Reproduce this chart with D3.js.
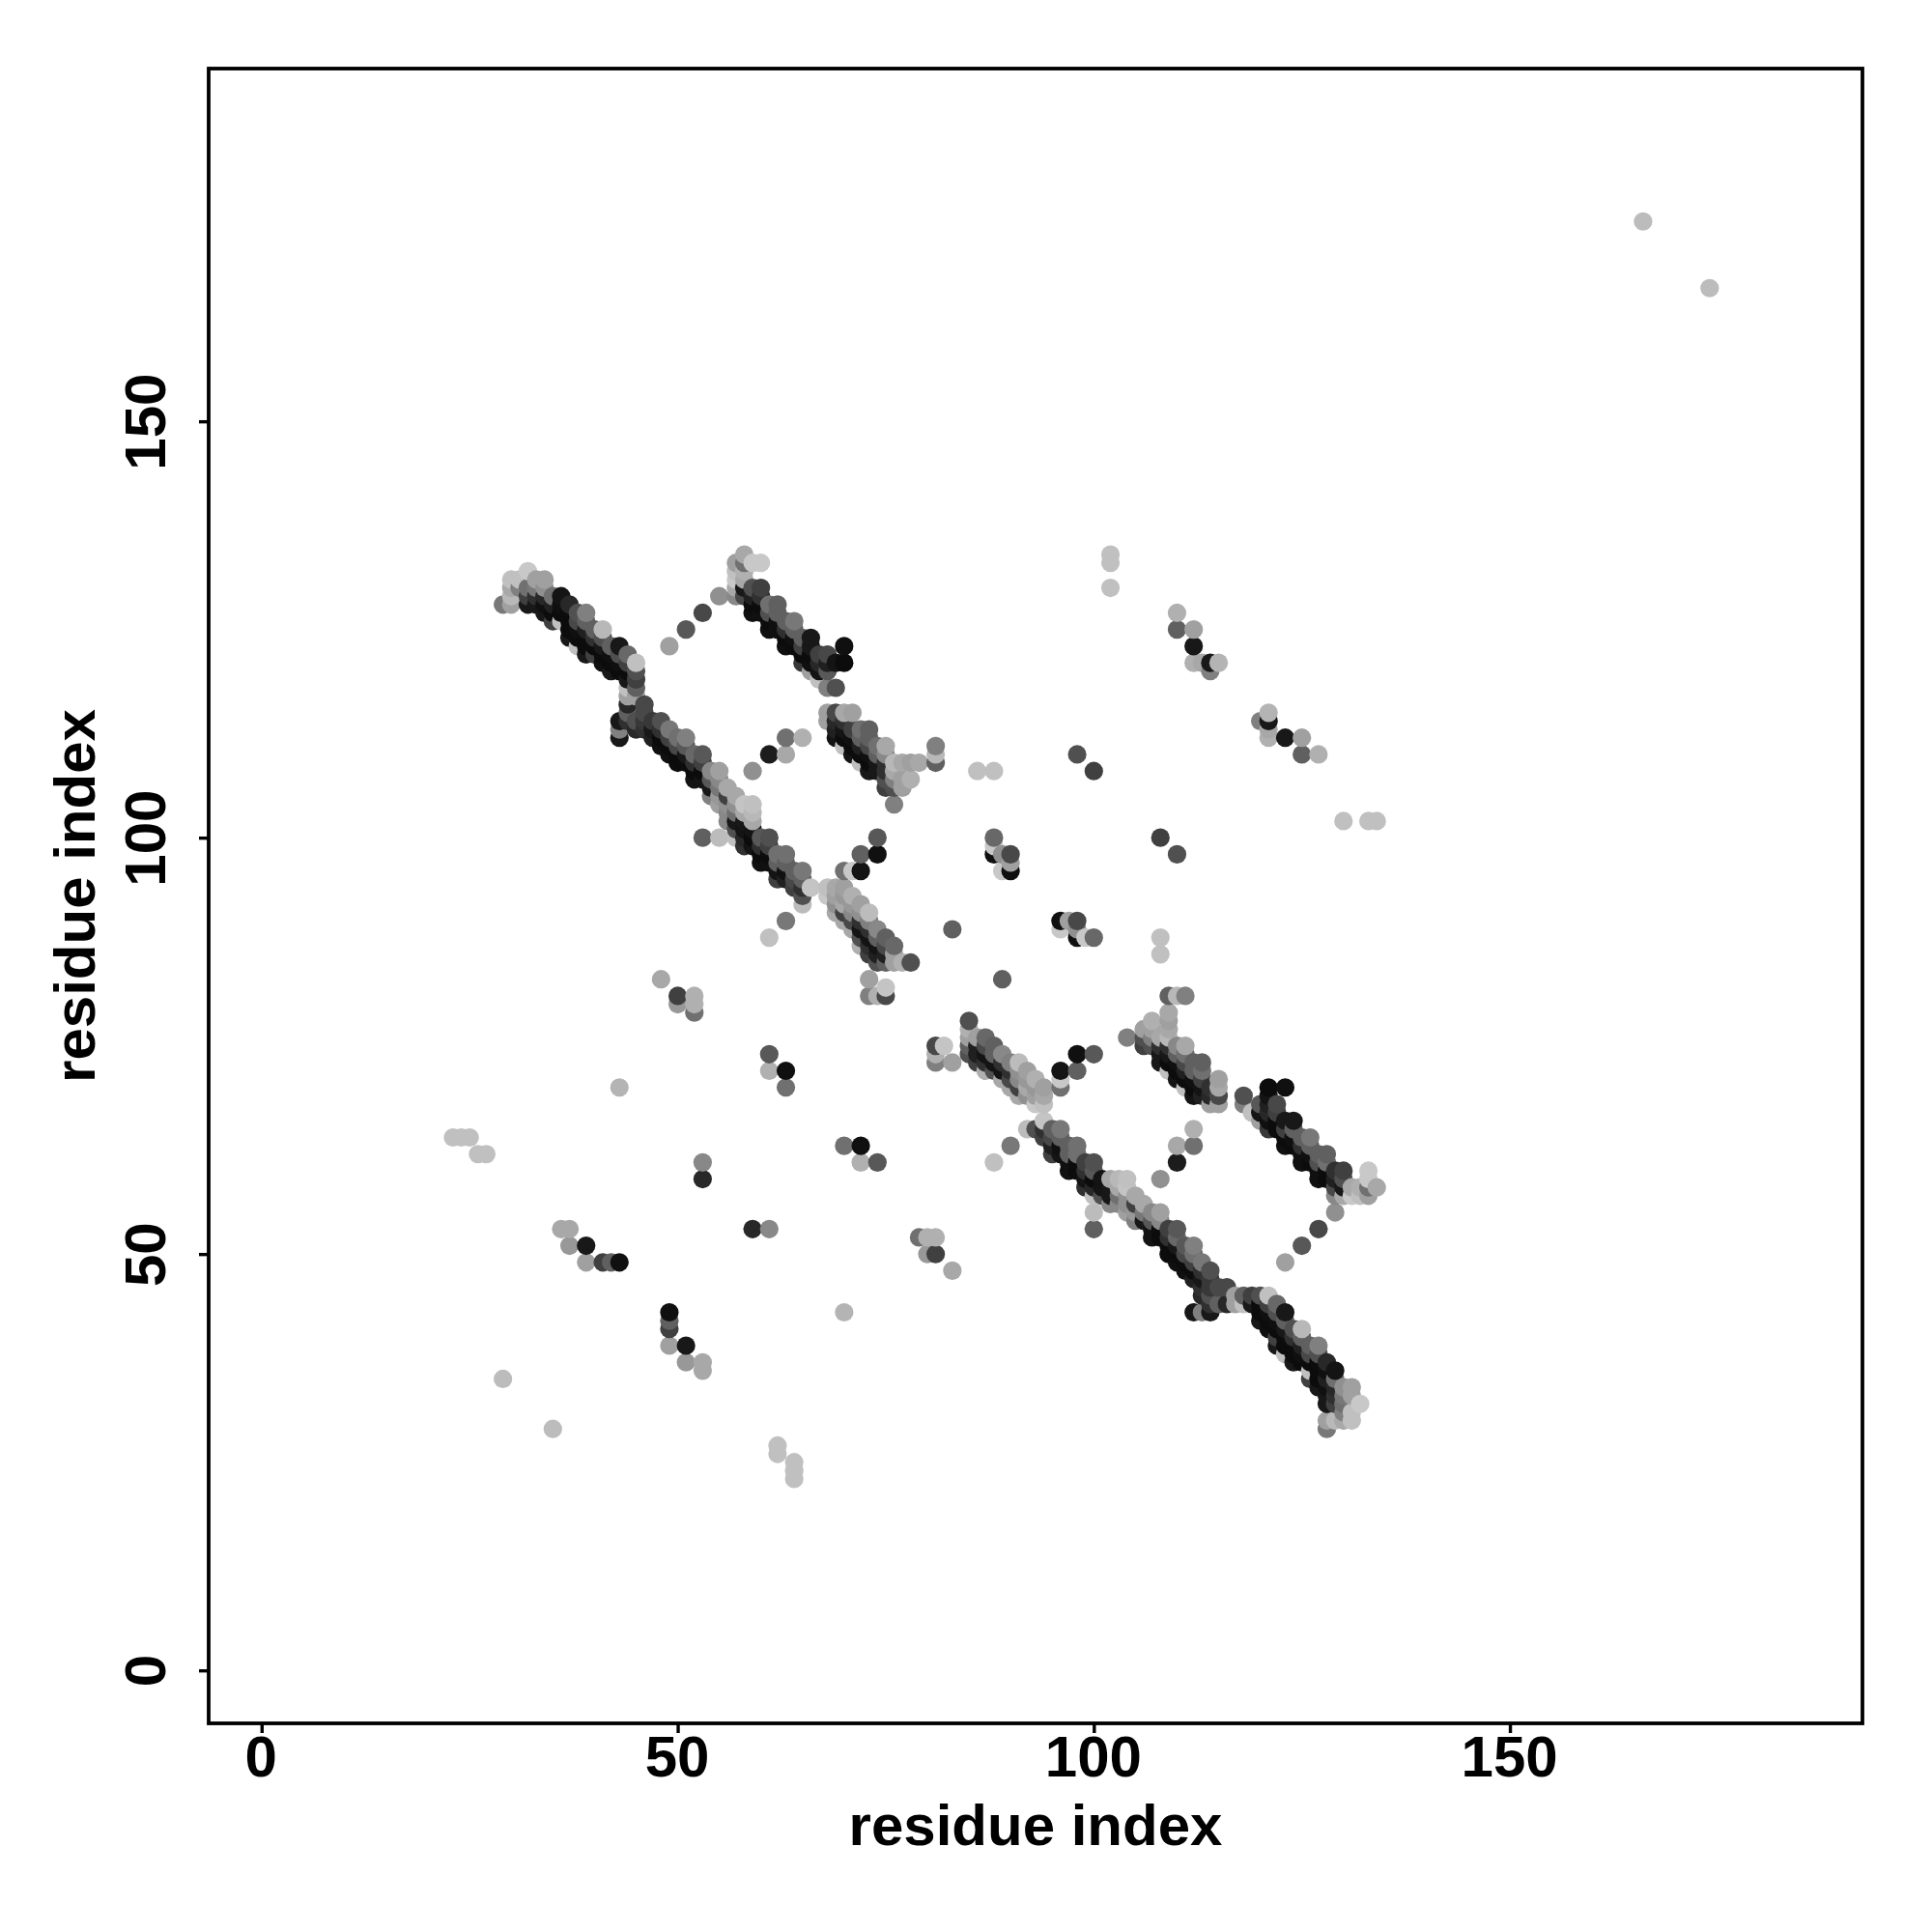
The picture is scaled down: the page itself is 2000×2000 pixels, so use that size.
<!DOCTYPE html>
<html><head><meta charset="utf-8">
<script src="https://cdnjs.cloudflare.com/ajax/libs/d3/7.8.5/d3.min.js"></script>
<style>html,body{margin:0;padding:0;background:#fff}svg{display:block}
text{font-family:"Liberation Sans",Arial,sans-serif;font-weight:bold;fill:#000}</style>
</head><body><svg id="c" width="2000" height="2000"></svg>
<script>
// Contact map: each triple is [residue i, residue j, grey level]. Only i<j is listed; the map is symmetric.
const xTicks=[0,50,100,150];
const yTicks=[0,50,100,150];
const axisLabel="residue index";
const scattered=[[166,174,0xbc],[29,35,0xbc],[23,64,0xc0],[24,64,0xc0],[25,64,0xc0],[26,62,0xc0],[27,62,0xc0],
[36,53,0xa8],[37,53,0xa8],[37,51,0x98],[39,51,0x18],[39,49,0xa0],[41,49,0x40],[42,49,0x60],[43,49,0x10],
[43,70,0xb4],[48,83,0xa8],[50,81,0x40],[50,80,0x98],[52,81,0xb0],[52,80,0xb0],[52,79,0x70],[53,61,0x88],[53,59,0x28],
[61,74,0x58],[61,72,0xb0],[63,72,0x10],[63,70,0x70],[49,123,0xa0],[51,125,0x58],[53,127,0x48],[55,129,0x90],
[53,100,0x60],[55,100,0xbc],[57,100,0xc0],[59,108,0x90],[61,110,0x1c],[63,110,0xa8],[63,112,0x70],[65,112,0xb0],
[61,88,0xc0],[63,90,0x78],[73,83,0xa0],[73,81,0x80],[74,81,0xb0],[75,82,0xc4],[75,81,0x48],
[70,96,0x70],[71,96,0xc8],[72,96,0x14],[72,98,0x60],[74,98,0x10],[74,100,0x58],
[81,111,0x80],[81,110,0xb8],[81,109,0x60],[86,108,0xc0],[88,108,0xc0],[83,89,0x60],
[88,100,0x68],[88,99,0xc8],[88,98,0x10],[89,98,0x90],[89,96,0xc8],[90,98,0x48],[90,97,0xa0],[90,96,0x10],
[98,110,0x50],[100,108,0x40],[102,134,0xc0],[102,133,0xc0],[102,130,0xc0],
[110,127,0xb0],[110,125,0x60],[112,125,0xa0],[112,123,0x18],[112,121,0xb0],[113,121,0xa8],[114,121,0x18],[114,120,0x80],[115,121,0xb4]];
const strandA1=[[29,128,0x78],[30,131,0xc0],[30,130,0xa8],[30,129,0xb8],[30,128,0xa0],[31,131,0xc0],[31,130,0x80],
[32,132,0xc8],[32,130,0x70],[32,129,0x40],[32,128,0x18],[33,131,0xa0],[33,130,0x78],[33,129,0x30],[33,128,0x18],
[34,131,0xa0],[34,130,0x90],[34,129,0x28],[34,128,0x10],[34,127,0x18],[35,129,0x70],[35,128,0x20],[35,127,0x0c],[35,126,0x40],
[36,129,0x14],[36,128,0x10],[36,127,0x0c],[36,126,0xc0],[37,128,0x28],[37,127,0x0c],[37,126,0x0c],[37,125,0x0c],[37,124,0x18],
[38,127,0x50],[38,126,0x48],[38,125,0x10],[38,124,0x0c],[38,123,0xc0],[39,127,0x80],[39,126,0x60],[39,125,0x20],[39,124,0x0c],[39,123,0x0c],[39,122,0x18],
[40,125,0x60],[40,124,0x30],[40,123,0x0c],[40,122,0x40],[41,125,0xb8],[41,124,0x50],[41,123,0x18],[41,122,0x0c],[41,121,0x10],
[42,123,0x60],[42,122,0x10],[42,121,0x0c],[42,120,0x18],[43,123,0x18],[43,122,0x50],[43,121,0x10],[43,120,0x0c],
[44,122,0x68],[44,121,0x40],[44,120,0x0c],[44,119,0x18],[44,118,0xc0],[45,121,0xc0],[45,120,0x50],[45,119,0x40],[45,118,0x60],[45,117,0xa0]];
const strandA2=[[43,114,0x18],[43,113,0x80],[43,112,0x18],[44,117,0xa0],[44,116,0x28],[44,115,0x60],[44,114,0x30],
[45,114,0x50],[45,113,0x28],[46,116,0x48],[46,115,0x48],[46,114,0x38],[46,113,0x30],[47,114,0x38],[47,113,0x18],[47,112,0x20],
[48,114,0x50],[48,113,0x30],[48,112,0x0c],[48,111,0x10],[49,113,0x78],[49,112,0x40],[49,111,0x0c],[49,110,0x10],
[50,112,0x70],[50,111,0x48],[50,110,0x0c],[50,109,0x0c],[51,112,0x80],[51,111,0x58],[51,110,0x18],[51,109,0x0c],
[52,110,0x68],[52,109,0x30],[52,108,0x0c],[52,107,0x14],[53,110,0x58],[53,109,0x40],[53,108,0x0c],[53,107,0x14],
[54,108,0x88],[54,107,0x58],[54,106,0x18],[54,105,0x80],[55,108,0xa0],[55,107,0x88],[55,106,0x78],[55,105,0x98],[55,104,0xa0],
[56,106,0xa8],[56,105,0x40],[56,104,0x90],[56,103,0x88],[56,102,0x88],[57,105,0xa8],[57,104,0x90],[57,103,0x70],[57,102,0x18],[57,101,0x50],
[58,104,0xc4],[58,103,0xa8],[58,102,0x18],[58,101,0x14],[58,100,0x28],[58,99,0x30],[59,104,0xc0],[59,103,0xb8],[59,102,0xa8],[59,101,0x14],[59,100,0x0c],[59,99,0x14],
[60,100,0x58],[60,99,0x30],[60,98,0x0c],[60,97,0x10],[61,100,0x50],[61,99,0x40],[61,98,0x0c],[61,97,0x10],
[62,98,0x70],[62,97,0x60],[62,96,0x14],[62,95,0x40],[63,98,0x70],[63,97,0x60],[63,96,0x10],[63,95,0x20],
[64,96,0x60],[64,95,0x48],[64,94,0x40],[65,96,0x78],[65,95,0x60],[65,94,0x30],[65,93,0x50],[65,92,0xbc],[66,94,0xc4]];
const strandA3=[[68,94,0xc0],[68,93,0xc8],[69,94,0xa8],[69,93,0xa0],[69,92,0x90],[69,91,0xa8],[70,94,0xa0],[70,93,0x98],[70,92,0xa8],[70,91,0x40],[70,90,0xa8],
[71,93,0xb0],[71,92,0x98],[71,91,0x88],[71,90,0x48],[71,89,0xa8],[72,92,0xa0],[72,91,0x90],[72,90,0x30],[72,89,0x14],[72,88,0x50],[72,87,0xb0],
[73,91,0xbc],[73,90,0x80],[73,89,0x30],[73,88,0x14],[73,87,0x30],[73,86,0x40],[74,89,0x88],[74,88,0x60],[74,87,0x14],[74,86,0x20],[74,85,0x50],
[75,88,0x60],[75,87,0x48],[75,86,0x20],[75,85,0x60],[76,87,0x68],[76,86,0xa0],[76,85,0xa0],[77,85,0xb0],[78,85,0x50]];
const strandB=[[57,133,0xa0],[57,132,0xc0],[57,131,0xc8],[57,130,0xa8],[57,129,0x88],[58,134,0xa8],[58,133,0x70],[58,132,0xb0],[58,131,0xa8],[58,130,0x18],[58,129,0x48],
[59,133,0xc8],[59,130,0x50],[59,129,0x20],[59,128,0x0c],[59,127,0x10],[60,133,0xc8],[60,130,0x40],[60,129,0x30],[60,128,0x0c],[60,127,0x10],
[61,128,0x70],[61,127,0x50],[61,126,0x0c],[61,125,0x10],[62,128,0x60],[62,127,0x60],[62,126,0x10],[62,125,0x10],
[63,126,0x60],[63,125,0x30],[63,124,0x0c],[63,123,0x10],[64,126,0x78],[64,125,0x60],[64,124,0x10],[64,123,0x0c],
[65,124,0x60],[65,123,0x40],[65,122,0x0c],[65,121,0x38],[66,124,0x18],[66,123,0x18],[66,122,0x0c],[66,121,0x10],[66,120,0xa0],
[67,122,0x40],[67,121,0x28],[67,120,0x14],[67,119,0xc0],[68,122,0x48],[68,121,0x20],[68,120,0x58],[68,118,0x80],
[69,121,0x14],[69,118,0x50],[70,123,0x10],[70,121,0x0c]];
const strandC=[[68,115,0xa0],[68,114,0xa0],[69,115,0x48],[69,114,0x28],[69,113,0x20],[69,112,0x14],[70,115,0xa8],[70,114,0x30],[70,113,0x14],[70,112,0x0c],[70,111,0xc0],
[71,115,0xa0],[71,113,0x40],[71,112,0x10],[71,111,0x0c],[71,110,0x14],[72,113,0x70],[72,112,0x60],[72,111,0x20],[72,110,0x0c],[72,109,0xc0],
[73,113,0x60],[73,112,0x60],[73,111,0x48],[73,110,0x10],[73,109,0x0c],[73,108,0x18],[74,111,0x70],[74,110,0x60],[74,109,0x18],[74,108,0x18],
[75,111,0xa8],[75,110,0x88],[75,109,0x30],[75,108,0x30],[75,107,0x50],[75,106,0x40],[76,109,0xb8],[76,108,0xa8],[76,107,0x80],[76,106,0x50],[76,104,0x80],
[77,109,0xa8],[77,107,0xa0],[77,106,0xa0],[78,109,0xa0],[78,107,0xb0],[79,109,0xa8]];

const box={l:216,r:1928,t:71,b:1784};
const xDom=[-6.36,192.36],yDom=[-6.36,192.36];
const x=d3.scaleLinear().domain(xDom).range([box.l,box.r]);
const y=d3.scaleLinear().domain(yDom).range([box.b,box.t]);
const upper=[...scattered,...strandA1,...strandA2,...strandA3,...strandB,...strandC];
const contacts=upper.flatMap(([i,j,g])=>[{x:i,y:j,g},{x:j,y:i,g}]).sort((a,b)=>d3.ascending(a.x,b.x)||d3.ascending(a.y,b.y));
const svg=d3.select("#c");
svg.append("g").selectAll("circle").data(contacts).join("circle")
 .attr("cx",d=>x(d.x)).attr("cy",d=>y(d.y)).attr("r",9.6)
 .attr("fill",d=>d3.rgb(d.g,d.g,d.g).formatHex());
svg.append("rect").attr("x",box.l).attr("y",box.t).attr("width",box.r-box.l).attr("height",box.b-box.t)
 .attr("fill","none").attr("stroke","#000").attr("stroke-width",3.8);
const ax=svg.append("g").attr("transform",`translate(0,${box.b})`)
 .call(d3.axisBottom(x).tickValues(xTicks).tickSize(10).tickPadding(6).tickFormat(d3.format("d")));
const ay=svg.append("g").attr("transform",`translate(${box.l},0)`)
 .call(d3.axisLeft(y).tickValues(yTicks).tickSize(10).tickFormat(d3.format("d")));
[ax,ay].forEach(g=>{g.select(".domain").remove();g.selectAll("line").attr("stroke","#000").attr("stroke-width",3.4);
 g.selectAll("text").style("font-size","60px").style("font-family",'"Liberation Sans",Arial,sans-serif').style("font-weight","bold");});
ax.selectAll("text").attr("dy",null).attr("transform","translate(-1,0)").attr("y",55);
ay.selectAll("text").attr("x",null).attr("dy",null).attr("y",null).attr("text-anchor","middle")
 .attr("transform",`translate(-45,0) rotate(-90)`);
svg.append("text").attr("x",(box.l+box.r)/2).attr("y",1910).attr("text-anchor","middle").style("font-size","60px").text(axisLabel);
svg.append("text").attr("transform",`translate(98,${(box.t+box.b)/2}) rotate(-90)`).attr("text-anchor","middle").style("font-size","60px").text(axisLabel);
</script></body></html>
